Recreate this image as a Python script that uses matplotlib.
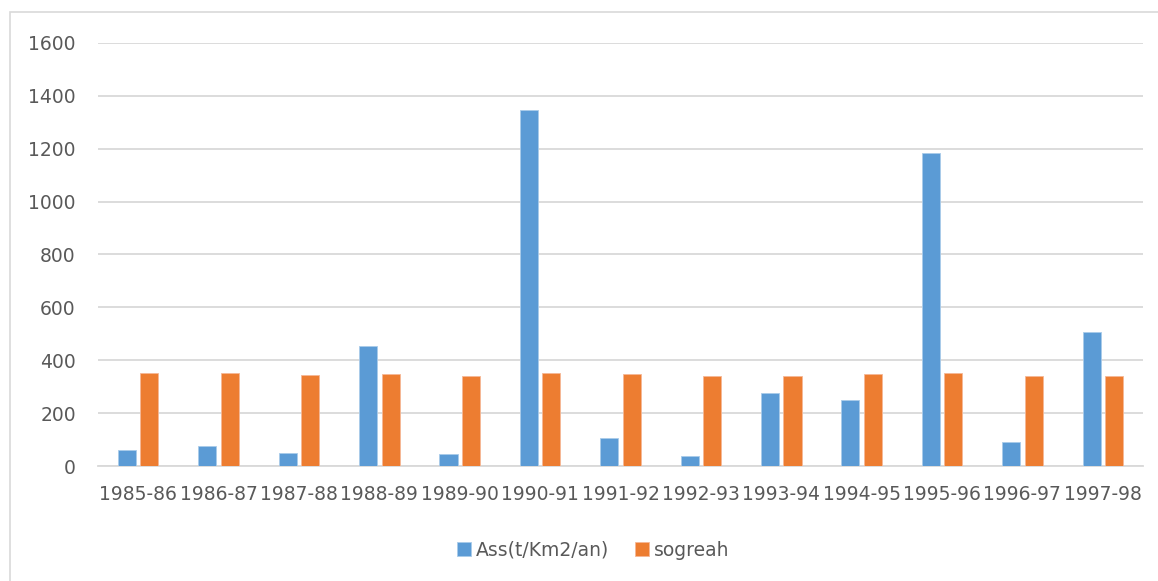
import numpy as np
import matplotlib.pyplot as plt
from matplotlib.patches import Rectangle

# data
years = ['1985-86', '1986-87', '1987-88', '1988-89', '1989-90', '1990-91', '1991-92',
         '1992-93', '1993-94', '1994-95', '1995-96', '1996-97', '1997-98']
ass = [61, 76, 51, 455, 44, 1345, 105, 38, 277, 249, 1184, 90, 505]
sogreah = [351, 352, 344, 347, 342, 351, 349, 342, 342, 347, 351, 341, 342]

blue = '#5B9BD5'
orange = '#ED7D31'
grey = '#595959'

fig = plt.figure(figsize=(11.58, 5.81), dpi=100)
ax = fig.add_axes([98/1158, 1-466/581, (1143-98)/1158, (466-43)/581])

# chart border
fig.patches.append(Rectangle((10/1158, -0.05), 1.2, 1-12/581+0.05, transform=fig.transFigure,
                             fill=False, edgecolor='#d9d9d9', linewidth=1.2))

x = np.arange(len(years))
w = 0.225
ax.bar(x - 0.14, ass, w, color=blue, edgecolor='#a9cbea', linewidth=0.6,
       label='Ass(t/Km2/an)', zorder=3)
ax.bar(x + 0.14, sogreah, w, color=orange, edgecolor='#f5b896', linewidth=0.6,
       label='sogreah', zorder=3)

ax.set_xlim(-0.5, len(years) - 0.5)
ax.set_ylim(0, 1600)
ax.set_yticks(np.arange(0, 1601, 200))
ax.set_xticks(x)
ax.set_xticklabels(years)
ax.yaxis.grid(True, color='#d9d9d9', linewidth=1.3, zorder=0)
ax.set_axisbelow(True)
for s in ['top', 'right', 'left']:
    ax.spines[s].set_visible(False)
ax.spines['bottom'].set_color('#d9d9d9')
ax.spines['bottom'].set_linewidth(1.3)
ax.tick_params(axis='both', length=0, labelsize=13.5, colors=grey)
ax.tick_params(axis='x', pad=14)
ax.tick_params(axis='y', pad=16)

leg = fig.legend(loc='center', bbox_to_anchor=(0.512, 1-550/581), ncol=2, frameon=False,
                 fontsize=13.5, handlelength=0.75, handleheight=0.75, handletextpad=0.25,
                 columnspacing=1.4)
for t in leg.get_texts():
    t.set_color(grey)

fig.savefig('out.png', dpi=100)
